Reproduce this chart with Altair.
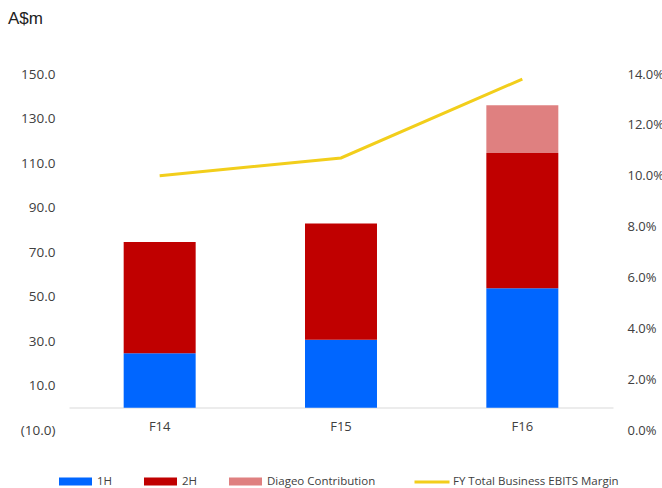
import altair as alt
import pandas as pd

# ---- data ----
years = ["F14", "F15", "F16"]
h1 = [24.5, 30.6, 53.7]
h2 = [50.0, 52.2, 60.8]
diageo = [0.0, 0.0, 21.5]
margin = [0.100, 0.107, 0.138]

bar_series = ["1H", "2H", "Diageo Contribution"]
bar_colors = ["#0066FF", "#C00000", "#DF8080"]
line_series = ["FY Total Business EBITS Margin"]
line_colors = ["#F2CE1B"]

left_ticks = [-10, 10, 30, 50, 70, 90, 110, 130, 150]
right_ticks = [0.0, 0.02, 0.04, 0.06, 0.08, 0.10, 0.12, 0.14]
unit_label = "A$m"

rows = []
for i, y in enumerate(years):
    rows.append({"year": y, "series": bar_series[0], "value": h1[i], "ord": 0})
    rows.append({"year": y, "series": bar_series[1], "value": h2[i], "ord": 1})
    if diageo[i] > 0:
        rows.append({"year": y, "series": bar_series[2], "value": diageo[i], "ord": 2})
bar_df = pd.DataFrame(rows)
line_df = pd.DataFrame({"year": years, "margin": margin, "series": line_series * len(years)})

FONT = "Open Sans"
LABEL_COLOR = "#404040"

x_enc = alt.X(
    "year:N",
    sort=years,
    title=None,
    scale=alt.Scale(paddingInner=0.603, paddingOuter=0.3015),
    axis=alt.Axis(
        orient="bottom", offset=-22.5, domainColor="#D9D9D9", domainWidth=1,
        ticks=False, labelAngle=0, labelPadding=13, labelFontSize=13,
        labelFont=FONT, labelColor=LABEL_COLOR, grid=False,
    ),
)

bars = alt.Chart(bar_df).mark_bar(strokeWidth=0).encode(
    x=x_enc,
    y=alt.Y(
        "value:Q", stack="zero", title=None,
        scale=alt.Scale(domain=[-10, 150], nice=False, zero=False),
        axis=alt.Axis(
            values=left_ticks, domain=False, ticks=False, grid=False,
            labelPadding=14, labelFontSize=13.5, labelFont=FONT, labelColor=LABEL_COLOR,
            labelExpr="datum.value < 0 ? '(' + format(abs(datum.value), '.1f') + ')' : format(datum.value, '.1f')",
        ),
    ),
    color=alt.Color(
        "series:N",
        scale=alt.Scale(domain=bar_series, range=bar_colors),
        legend=alt.Legend(
            title=None, orient="none", direction="horizontal",
            legendX=-10, legendY=391, padding=0,
            symbolType="M-1,-0.24H1V0.24H-1Z", symbolSize=1089,
            symbolStrokeWidth=0, labelOffset=5, columnPadding=31,
            labelFont=FONT, labelFontSize=11.5, labelColor=LABEL_COLOR,
        ),
    ),
    order=alt.Order("ord:Q"),
)

line = alt.Chart(line_df).mark_line(strokeWidth=3).encode(
    x=alt.X("year:N", sort=years),
    y=alt.Y(
        "margin:Q", title=None,
        scale=alt.Scale(domain=[0, 0.14], nice=False, zero=False),
        axis=alt.Axis(
            orient="right", values=right_ticks, format=".1%", domain=False,
            ticks=False, grid=False, labelPadding=14, labelFontSize=13,
            labelFont=FONT, labelColor=LABEL_COLOR,
        ),
    ),
    stroke=alt.Stroke(
        "series:N",
        scale=alt.Scale(domain=line_series, range=line_colors),
        legend=alt.Legend(
            title=None, orient="none", direction="horizontal",
            legendX=344, legendY=389, padding=0, labelLimit=400,
            symbolType="stroke", symbolSize=1225, symbolStrokeWidth=3,
            labelOffset=2, labelFont=FONT, labelFontSize=11.5, labelColor=LABEL_COLOR,
        ),
    ),
)

unit_text = alt.Chart(alt.Data(values=[{"t": unit_label}])).mark_text(
    align="left", baseline="middle", font="Liberation Sans", fontSize=17, color="#222222"
).encode(text="t:N", x=alt.value(-61), y=alt.value(-55))

chart = (
    alt.layer(bars, line, unit_text)
    .resolve_scale(y="independent")
    .properties(
        width=544, height=356,
        autosize=alt.AutoSizeParams(type="none"),
        padding={"left": 69, "top": 74, "right": 49, "bottom": 58},
    )
    .configure(background="white")
    .configure_view(stroke=None)
)

chart.save("out.html", embed_options={"renderer": "svg", "actions": False})
